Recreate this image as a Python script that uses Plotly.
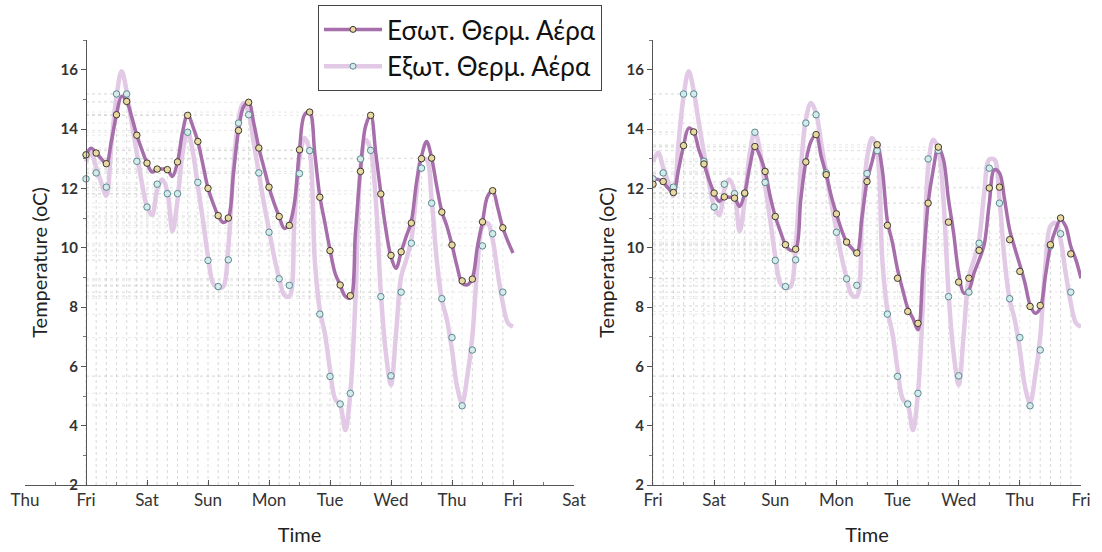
import pandas as pd
import plotly.graph_objects as go

# Week of readings, starting on a Friday
start = pd.Timestamp("2015-01-02")

# Smoothed curves, one value every 2 hours (Fri 00:00 -> next Fri 00:00)
line_hours = list(range(0, 170, 2))
outdoor_line = [
    12.9, 13.2, 12.7, 12.2, 11.75, 13.5, 15.1, 15.95, 15.27, 14.2, 13.19, 12.18,
    11.39, 11.1, 11.95, 12.3, 11.9, 10.55, 11.6, 13.19, 13.92, 13.25, 12.07, 10.94,
    9.7, 8.8, 8.64, 8.69, 10.04, 12.63, 14.32, 14.88, 14.54, 13.53, 12.52, 11.5,
    10.6, 9.7, 8.97, 8.41, 8.36, 10.94, 13.0, 13.7, 13.25, 9.6, 7.9, 7.1,
    5.9, 4.9, 4.7, 3.85, 5.1, 8.24, 12.7, 13.64, 13.3, 11.62, 8.47, 6.44,
    5.38, 7.12, 9.03, 9.59, 10.27, 11.84, 12.97, 12.97, 11.62, 9.59, 8.24, 7.57,
    6.56, 5.32, 4.76, 5.66, 7.0, 9.37, 10.72, 10.83, 10.27, 9.14, 8.13, 7.46,
    7.34,
]
indoor_line_a = [
    13.13, 13.35, 13.19, 13.0, 12.83, 13.6, 14.48, 15.1, 14.93, 14.4, 13.79, 13.3,
    12.85, 12.55, 12.65, 12.65, 12.63, 12.4, 12.89, 13.9, 14.5, 14.1, 13.58, 12.8,
    12.0, 11.5, 11.08, 10.85, 11.0, 12.5, 13.95, 14.75, 14.9, 14.2, 13.36, 12.7,
    12.04, 11.5, 11.05, 10.65, 10.8, 11.5, 13.3, 14.48, 14.57, 13.19, 11.73, 10.83,
    9.93, 9.14, 8.74, 8.36, 8.3, 10.49, 12.63, 14.09, 14.48, 13.19, 11.84, 10.6,
    9.7, 9.31, 9.86, 10.38, 10.89, 12.18, 13.08, 13.58, 13.02, 12.07, 11.22, 10.72,
    10.09, 9.37, 8.81, 8.75, 8.97, 10.04, 10.87, 11.73, 11.92, 11.34, 10.67, 10.21,
    9.82,
]
indoor_line_b = [
    12.3, 12.3, 12.2, 12.0, 11.86, 12.63, 13.44, 14.03, 13.9, 13.3, 12.82, 12.29,
    11.84, 11.56, 11.71, 11.7, 11.67, 11.39, 11.84, 12.74, 13.41, 13.08, 12.57, 11.73,
    11.05, 10.55, 10.1, 9.91, 9.95, 11.62, 12.89, 13.58, 13.81, 13.08, 12.46, 11.73,
    11.14, 10.6, 10.19, 9.99, 9.82, 11.0, 12.23, 12.9, 13.47, 12.63, 10.9, 10.16,
    9.26, 8.58, 7.96, 7.62, 7.23, 9.37, 11.5, 12.63, 13.39, 12.97, 11.62, 10.49,
    9.14, 8.47, 8.58, 9.14, 9.59, 10.1, 11.5, 12.63, 12.52, 11.62, 10.6, 9.99,
    9.42, 8.81, 8.07, 7.79, 7.96, 9.03, 10.04, 10.6, 10.94, 10.72, 10.04, 9.59,
    8.97,
]

# Sampled readings, one every 4 hours
marker_hours = list(range(0, 168, 4))
outdoor_pts = [
    12.32, 12.52, 12.04, 15.18, 15.18, 12.91, 11.37, 12.14, 11.82, 11.82, 13.89, 12.2,
    9.57, 8.69, 9.59, 14.2, 14.48, 12.52, 10.52, 8.95, 8.73, 12.5, 13.27, 7.76,
    5.66, 4.73, 5.09, 12.99, 13.28, 8.35, 5.68, 8.5, 10.15, 12.68, 11.5, 8.28,
    6.97, 4.67, 6.55, 10.06, 10.47, 8.5,
]
indoor_pts_a = [
    13.13, 13.19, 12.83, 14.48, 14.93, 13.79, 12.85, 12.65, 12.63, 12.89, 14.46, 13.58,
    12.0, 11.08, 11.0, 13.95, 14.9, 13.36, 12.04, 11.05, 10.75, 13.3, 14.57, 11.7,
    9.9, 8.74, 8.38, 12.57, 14.46, 11.81, 9.74, 9.86, 10.83, 13.0, 13.02, 11.2,
    10.09, 8.88, 8.94, 10.87, 11.92, 10.67,
]
indoor_pts_b = [
    12.14, 12.23, 11.86, 13.44, 13.9, 12.82, 11.84, 11.71, 11.67, 11.84, 13.41, 12.57,
    11.05, 10.1, 9.95, 12.89, 13.81, 12.46, 11.14, 10.19, 9.82, 12.23, 13.47, 10.75,
    8.97, 7.85, 7.45, 11.5, 13.39, 10.86, 8.84, 8.97, 9.91, 12.01, 12.04, 10.27,
    9.2, 8.02, 8.05, 10.1, 11.0, 9.79,
]

y_ticks = [2, 4, 6, 8, 10, 12, 14, 16]
series_names = ["Εσωτ. Θερμ. Αέρα", "Εξωτ. Θερμ. Αέρα"]

IN_COLOR = "#a66eab"
OUT_COLOR = "#e2c9e5"
FONT = "Lato, 'Noto Sans', sans-serif"

line_t = [start + pd.Timedelta(hours=h) for h in line_hours]
pt_t = [start + pd.Timedelta(hours=h) for h in marker_hours]
y_floor = y_ticks[0]


def drop_lines(times, values):
    xs, ys = [], []
    for t, v in zip(times, values):
        xs += [t, t, None, start, t, None]
        ys += [y_floor, v, None, v, v, None]
    return xs, ys


fig = go.Figure()

panels = [("x", "y", indoor_line_a, indoor_pts_a), ("x2", "y2", indoor_line_b, indoor_pts_b)]
for xa, ya, in_line, in_pts in panels:
    for vals in (outdoor_pts, in_pts):
        dx, dy = drop_lines(pt_t, vals)
        fig.add_trace(go.Scatter(
            x=dx, y=dy, mode="lines", xaxis=xa, yaxis=ya, showlegend=False,
            hoverinfo="skip",
            line=dict(color="rgba(185,185,185,0.3)", width=1, dash="dot"),
        ))
    fig.add_trace(go.Scatter(
        x=line_t, y=outdoor_line, mode="lines", xaxis=xa, yaxis=ya, showlegend=False,
        line=dict(color=OUT_COLOR, width=4.5, shape="spline", smoothing=1.0),
    ))
    fig.add_trace(go.Scatter(
        x=line_t, y=in_line, mode="lines", xaxis=xa, yaxis=ya, showlegend=False,
        line=dict(color=IN_COLOR, width=3.5, shape="spline", smoothing=1.0),
    ))
    fig.add_trace(go.Scatter(
        x=pt_t, y=outdoor_pts, mode="markers", xaxis=xa, yaxis=ya, showlegend=False,
        marker=dict(size=6.5, color="#d5ebea", line=dict(width=1, color="#5a8a90")),
    ))
    fig.add_trace(go.Scatter(
        x=pt_t, y=in_pts, mode="markers", xaxis=xa, yaxis=ya, showlegend=False,
        marker=dict(size=6.5, color="#e8d9a2", line=dict(width=1, color="#3b382e")),
    ))

# Legend entries
fig.add_trace(go.Scatter(
    x=[None], y=[None], mode="lines+markers", name=series_names[0], legendgroup="a",
    line=dict(color=IN_COLOR, width=3.5),
    marker=dict(size=6, color="#e8d9a2", line=dict(width=1, color="#3b382e")),
))
fig.add_trace(go.Scatter(
    x=[None], y=[None], mode="lines+markers", name=series_names[1], legendgroup="b",
    line=dict(color=OUT_COLOR, width=4.5),
    marker=dict(size=6, color="#d5ebea", line=dict(width=1, color="#5a8a90")),
))

W, H = 1102, 552
y_dom = [1 - 485 / H, 1 - 40 / H]
axis_common = dict(showline=True, linecolor="#555", linewidth=1, showgrid=False,
                   zeroline=False, automargin=False)
x_common = dict(
    axis_common, type="date", tickformat="%a", dtick=86400000, ticks="inside",
    ticklen=5, tickcolor="#555",
    minor=dict(dtick=43200000, ticks="inside", ticklen=3, tickcolor="#777"),
    tickfont=dict(family=FONT, size=17, color="#333"),
    title=dict(text="Time", font=dict(family=FONT, size=20, color="#222"), standoff=18),
)
y_common = dict(
    axis_common, range=[2, 17], tickvals=y_ticks, ticks="outside", ticklen=5, tickcolor="#555",
    minor=dict(dtick=1, ticks="outside", ticklen=3, tickcolor="#777"),
    tickfont=dict(family=FONT, size=15, color="#333", weight="bold"),
    title=dict(text="Temperature (oC)", font=dict(family=FONT, size=20, color="#222"), standoff=6),
    domain=y_dom,
)

fig.update_layout(
    width=W, height=H,
    margin=dict(l=0, r=0, t=0, b=0, autoexpand=False),
    paper_bgcolor="white", plot_bgcolor="white",
    xaxis=dict(x_common, domain=[25 / W, 574 / W], range=["2015-01-01", "2015-01-10"], anchor="y"),
    yaxis=dict(y_common, anchor="free", position=86 / W),
    xaxis2=dict(x_common, domain=[653 / W, 1081 / W], range=["2015-01-02", "2015-01-09"], anchor="y2"),
    yaxis2=dict(y_common, anchor="x2"),
    legend=dict(
        x=318 / W, y=1 - 5 / H, xanchor="left", yanchor="top",
        bgcolor="white", bordercolor="#444", borderwidth=1,
        font=dict(family=FONT, size=26, color="#111"),
        itemwidth=58, tracegroupgap=0,
    ),
    showlegend=True,
)

fig.write_html("out.html")
